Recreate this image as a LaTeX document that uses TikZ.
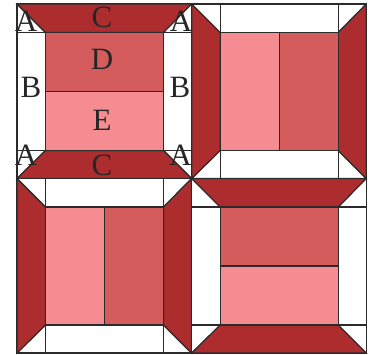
\documentclass[tikz,border=0pt]{standalone}
\usepackage{fontspec}
\setmainfont{Liberation Serif}
\definecolor{quiltdark}{HTML}{AD2D2E}
\definecolor{quiltmid}{HTML}{D55C5C}
\definecolor{quiltlight}{HTML}{F58C92}
\definecolor{quiltline}{HTML}{2B2B2B}
\tikzset{
  seam/.style={draw=quiltline,line width=1.1pt,line join=miter},
  band/.style={seam,fill=quiltdark},
  midpatch/.style={seam,fill=quiltmid},
  lightpatch/.style={seam,fill=quiltlight},
  letter/.style={anchor=base,inner sep=0pt,outer sep=0pt,text=black!85,font=\fontsize{31}{31}\selectfont}
}
% #1,#2 = top-left corner of the block
\newcommand{\hblock}[2]{%
  \begin{scope}[shift={(#1,#2)}]
    \draw[seam,fill=white] (0,0) rectangle (174.5,174.5);
    \draw[seam] (0,28.5) -- (174.5,28.5) (0,146.5) -- (174.5,146.5);
    \draw[seam] (0,0) -- (28.5,28.5) (174.5,0) -- (146.5,28.5)
                (0,174.5) -- (28.5,146.5) (174.5,174.5) -- (146.5,146.5);
    \draw[band] (0,0) -- (174.5,0) -- (146.5,28.5) -- (28.5,28.5) -- cycle;
    \draw[band] (0,174.5) -- (174.5,174.5) -- (146.5,146.5) -- (28.5,146.5) -- cycle;
    \draw[midpatch] (28.5,28.5) rectangle (146.5,87.5);
    \draw[lightpatch] (28.5,87.5) rectangle (146.5,146.5);
  \end{scope}}
\newcommand{\vblock}[2]{%
  \begin{scope}[shift={(#1,#2)}]
    \draw[seam,fill=white] (0,0) rectangle (174.5,174.5);
    \draw[seam] (28.5,0) -- (28.5,174.5) (146.5,0) -- (146.5,174.5);
    \draw[seam] (0,0) -- (28.5,28.5) (174.5,0) -- (146.5,28.5)
                (0,174.5) -- (28.5,146.5) (174.5,174.5) -- (146.5,146.5);
    \draw[band] (0,0) -- (28.5,28.5) -- (28.5,146.5) -- (0,174.5) -- cycle;
    \draw[band] (174.5,0) -- (146.5,28.5) -- (146.5,146.5) -- (174.5,174.5) -- cycle;
    \draw[lightpatch] (28.5,28.5) rectangle (87.5,146.5);
    \draw[midpatch] (87.5,28.5) rectangle (146.5,146.5);
  \end{scope}}
\begin{document}
\begin{tikzpicture}[x=1pt,y=-1pt]
  \useasboundingbox (0,0) rectangle (371,354);
  \fill[white] (0,0) rectangle (371,354);
  \hblock{17}{4}
  \vblock{191.7}{4}
  \vblock{17}{178.5}
  \hblock{191.7}{178.5}
  \node[letter] (topleftA) at (26,31.5) {A};
  \node[letter] (toprightA) at (181,31.5) {A};
  \node[letter] (topC) at (102,27.5) {C};
  \node[letter] (labelD) at (102,69.5) {D};
  \node[letter] (leftB) at (31,97) {B};
  \node[letter] (rightB) at (180,97) {B};
  \node[letter] (labelE) at (102,130.5) {E};
  \node[letter] (bottomleftA) at (26,165) {A};
  \node[letter] (bottomrightA) at (180.5,165) {A};
  \node[letter] (bottomC) at (102,175.5) {C};
\end{tikzpicture}
\end{document}
